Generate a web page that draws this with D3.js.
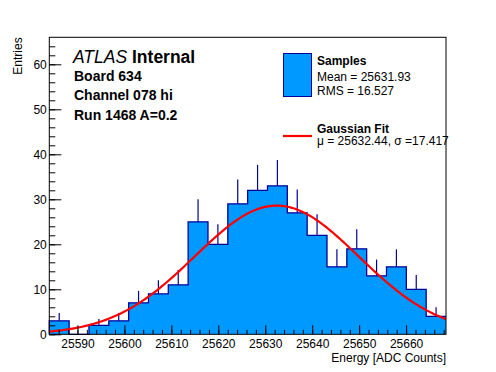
<!DOCTYPE html>
<html lang="en">
<head>
    <meta charset="UTF-8">
    <title>Channel 078 hi</title>
    <script src="https://d3js.org/d3.v7.min.js"></script>
</head>

<style>
    html, body {
        margin: 0;
        padding: 0;
        background: #fff;
    }

    svg text {
        font-family: "Liberation Sans", Arial, sans-serif;
    }
</style>
<body>
<svg id="chart" width="496" height="372"></svg>

<script>
    // histogram contents (20 bins)
    var counts = [3, 0, 2, 3, 7, 9, 11, 25, 20, 29, 32, 33, 27, 22, 15, 19, 13, 15, 10, 4]
    // axis range of the histogram
    var xRange = [25584, 25668.5]
    var yRange = [0, 66]
    var xMajorTicks = [25590, 25600, 25610, 25620, 25630, 25640, 25650, 25660]
    var yMajorTicks = [0, 10, 20, 30, 40, 50, 60]

    // gaussian fit parameters (from legend, constant read from the peak)
    var fitMean = 25632.44
    var fitSigma = 17.417
    var fitConst = 28.6

    var labelLines = ['Board 634', 'Channel 078 hi', 'Run 1468 A=0.2']
    var statLines = ['Mean = 25631.93', 'RMS = 16.527']
    var fitLine = '\u03bc = 25632.44, \u03c3 =17.417'

    var colorFill = '#0099ff'
    var colorLine = '#000099'
    var colorFit = '#ff0000'

    //
    // layout
    //
    var svg = d3.select('#chart')
    var margin = {left: 49.3, right: 50, top: 37.3, bottom: 37.7}
    var width = 496 - margin.left - margin.right
    var height = 372 - margin.top - margin.bottom

    var g = svg.append('g')
        .attr('transform', 'translate(' + margin.left + ',' + margin.top + ')')

    var x = d3.scaleLinear().domain(xRange).range([0, width])
    var y = d3.scaleLinear().domain(yRange).range([height, 0])

    var binWidth = (xRange[1] - xRange[0]) / counts.length
    var bins = counts.map(function (c, i) {
        return {x0: xRange[0] + i * binWidth, x1: xRange[0] + (i + 1) * binWidth, n: c}
    })

    // histogram fill + outline
    var steps = []
    bins.forEach(function (b) {
        steps.push([b.x0, b.n])
        steps.push([b.x1, b.n])
    })

    var area = d3.area()
        .x(function (d) { return x(d[0]) })
        .y0(y(0))
        .y1(function (d) { return y(d[1]) })

    var line = d3.line()
        .x(function (d) { return x(d[0]) })
        .y(function (d) { return y(d[1]) })

    g.append('path')
        .datum(steps)
        .attr('d', area)
        .attr('fill', colorFill)

    g.append('path')
        .datum([[xRange[0], 0]].concat(steps))
        .attr('d', line)
        .attr('fill', 'none')
        .attr('stroke', colorLine)
        .attr('stroke-width', 1.3)

    // error bars (only the upper half shows above the fill)
    g.selectAll('.err')
        .data(bins.filter(function (b) { return b.n > 0 }))
        .enter().append('line')
        .attr('class', 'err')
        .attr('x1', function (b) { return x((b.x0 + b.x1) / 2) })
        .attr('x2', function (b) { return x((b.x0 + b.x1) / 2) })
        .attr('y1', function (b) { return y(b.n) })
        .attr('y2', function (b) { return y(b.n + Math.sqrt(b.n)) })
        .attr('stroke', colorLine)
        .attr('stroke-width', 1.2)

    // gaussian fit curve
    var fitPts = d3.range(xRange[0], xRange[1] + 0.01, 0.5).map(function (v) {
        var z = (v - fitMean) / fitSigma
        return [v, fitConst * Math.exp(-0.5 * z * z)]
    })
    g.append('path')
        .datum(fitPts)
        .attr('d', line)
        .attr('fill', 'none')
        .attr('stroke', colorFit)
        .attr('stroke-width', 2.2)

    // axes, ROOT style ticks inside the frame
    var xMinor = d3.range(25586, xRange[1], 2)
    var yMinor = d3.range(0, yRange[1], 2)

    g.append('g')
        .attr('transform', 'translate(0,' + height + ')')
        .call(d3.axisBottom(x).tickValues(xMinor).tickSize(-4.5).tickFormat(''))
        .call(function (a) { a.select('.domain').remove() })

    var xAxis = g.append('g')
        .attr('transform', 'translate(0,' + height + ')')
        .call(d3.axisBottom(x).tickValues(xMajorTicks).tickSize(-9).tickPadding(5.5).tickFormat(d3.format('d')))
    xAxis.select('.domain').remove()

    g.append('g')
        .call(d3.axisLeft(y).tickValues(yMinor).tickSize(-6).tickFormat(''))
        .call(function (a) { a.select('.domain').remove() })

    var yAxis = g.append('g')
        .call(d3.axisLeft(y).tickValues(yMajorTicks).tickSize(-12).tickPadding(2.5))
    yAxis.select('.domain').remove()

    g.selectAll('.tick line').attr('stroke', '#000')
    g.selectAll('.tick text').attr('font-size', 12).attr('fill', '#000')
        .style('font-family', '"Liberation Sans", Arial, sans-serif')

    // frame
    g.append('rect')
        .attr('width', width)
        .attr('height', height)
        .attr('fill', 'none')
        .attr('stroke', '#000')
        .attr('stroke-width', 1)

    // axis titles
    svg.append('text')
        .attr('x', margin.left + width)
        .attr('y', 361.5)
        .attr('text-anchor', 'end')
        .attr('font-size', 12)
        .text('Energy [ADC Counts]')

    svg.append('text')
        .attr('transform', 'translate(22,' + margin.top + ') rotate(-90)')
        .attr('text-anchor', 'end')
        .attr('font-size', 12)
        .text('Entries')

    // ATLAS label
    var atlas = svg.append('text')
        .attr('x', 73)
        .attr('y', 62.5)
        .attr('font-size', 17.5)
    atlas.append('tspan').attr('font-style', 'italic').text('ATLAS')
    atlas.append('tspan').attr('font-weight', 'bold').text(' Internal')

    svg.selectAll('.info')
        .data(labelLines)
        .enter().append('text')
        .attr('class', 'info')
        .attr('x', 74)
        .attr('y', function (d, i) { return 80.5 + i * 19.5 })
        .attr('font-size', 14)
        .attr('font-weight', 'bold')
        .text(function (d) { return d })

    // legend
    svg.append('rect')
        .attr('x', 283.5)
        .attr('y', 53.5)
        .attr('width', 28)
        .attr('height', 43)
        .attr('fill', colorFill)
        .attr('stroke', colorLine)
        .attr('stroke-width', 1)

    svg.append('text')
        .attr('x', 317)
        .attr('y', 65)
        .attr('font-size', 12)
        .attr('font-weight', 'bold')
        .text('Samples')

    svg.selectAll('.stat')
        .data(statLines)
        .enter().append('text')
        .attr('class', 'stat')
        .attr('x', 317)
        .attr('y', function (d, i) { return 81 + i * 13.5 })
        .attr('font-size', 12)
        .text(function (d) { return d })

    svg.append('line')
        .attr('x1', 283).attr('x2', 312)
        .attr('y1', 136).attr('y2', 136)
        .attr('stroke', colorFit)
        .attr('stroke-width', 2.2)

    svg.append('text')
        .attr('x', 317)
        .attr('y', 132.5)
        .attr('font-size', 12)
        .attr('font-weight', 'bold')
        .text('Gaussian Fit')

    svg.append('text')
        .attr('x', 317)
        .attr('y', 145)
        .attr('font-size', 12)
        .text(fitLine)
</script>
</body>
</html>
